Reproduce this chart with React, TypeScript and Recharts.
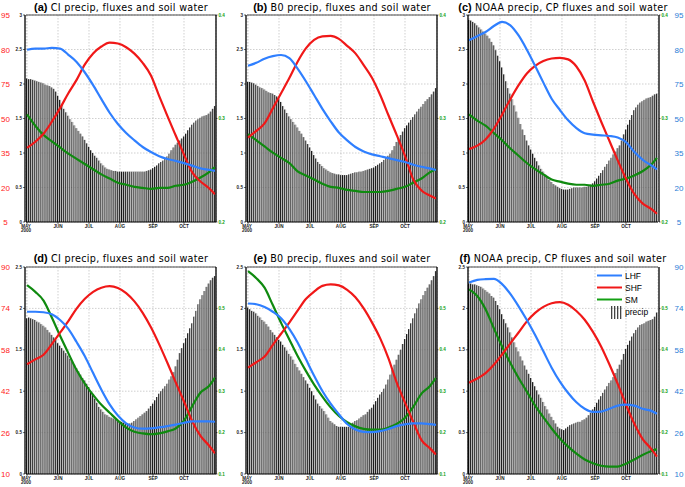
import React from 'react';
import { ComposedChart, Bar, Line, XAxis, YAxis, CartesianGrid, Legend } from 'recharts';

// rows are 2-day bins from 1 May 2000, labelled by the bin's centre day
const ROW_DAYS = Array.from({ length: 92 }, (_, i) => 2 * i + 1);
const LINE_DAYS = [1, 9, 17, 25, 33, 41, 49, 57, 65, 73, 81, 89, 97, 105, 113, 121, 129, 137, 145, 153, 161, 169, 177, 183];

const MONTH_TICKS = [1, 31, 61, 91, 123, 153];
const MONTH_LABELS = ['MAY\n2000', 'JUN', 'JUL', 'AUG', 'SEP', 'OCT'];

const TOP_PRECIP_TICKS = [0, 0.5, 1, 1.5, 2, 2.5, 3];
const BOT_PRECIP_TICKS = [0, 0.5, 1, 1.5, 2, 2.5];
const TOP_SM_TICKS = [0.2, 0.3, 0.4];
const BOT_SM_TICKS = [0.1, 0.2, 0.3, 0.4, 0.5];
const TOP_FLUX_TICKS = [5, 20, 35, 50, 65, 80, 95];
const TOP_FLUX_LABELS = ['5', '20', '35', '50', '75', '80', '95'];
const BOT_FLUX_TICKS = [10, 26, 42, 58, 74, 90];
const BOT_FLUX_LABELS = ['10', '26', '42', '58', '74', '90'];

const PRECIP_A = [
  2.08, 2.07, 2.07, 2.06, 2.05, 2.04, 2.03, 2.02, 2.01, 1.99,
  1.98, 1.97, 1.95, 1.93, 1.89, 1.83, 1.77, 1.70, 1.64, 1.59,
  1.54, 1.49, 1.45, 1.40, 1.36, 1.32, 1.28, 1.24, 1.19, 1.14,
  1.09, 1.04, 1.00, 0.96, 0.93, 0.89, 0.85, 0.82, 0.79, 0.77,
  0.76, 0.75, 0.74, 0.74, 0.73, 0.73, 0.73, 0.73, 0.73, 0.73,
  0.73, 0.73, 0.73, 0.73, 0.73, 0.73, 0.73, 0.73, 0.74, 0.75,
  0.76, 0.78, 0.80, 0.82, 0.85, 0.87, 0.89, 0.92, 0.95, 0.99,
  1.04, 1.08, 1.12, 1.15, 1.18, 1.21, 1.24, 1.28, 1.33, 1.37,
  1.41, 1.44, 1.47, 1.49, 1.51, 1.53, 1.54, 1.55, 1.57, 1.60,
  1.64, 1.68,
];
const PRECIP_B = [
  2.03, 2.03, 2.02, 2.01, 1.99, 1.97, 1.95, 1.94, 1.92, 1.90,
  1.88, 1.87, 1.86, 1.84, 1.82, 1.79, 1.74, 1.68, 1.63, 1.58,
  1.53, 1.49, 1.45, 1.41, 1.37, 1.32, 1.28, 1.23, 1.18, 1.13,
  1.08, 1.03, 0.97, 0.92, 0.87, 0.84, 0.81, 0.78, 0.76, 0.74,
  0.72, 0.71, 0.70, 0.69, 0.69, 0.68, 0.68, 0.68, 0.68, 0.69,
  0.70, 0.71, 0.72, 0.72, 0.73, 0.73, 0.74, 0.75, 0.76, 0.77,
  0.78, 0.79, 0.81, 0.83, 0.85, 0.87, 0.90, 0.93, 0.96, 0.99,
  1.04, 1.10, 1.16, 1.21, 1.26, 1.31, 1.36, 1.40, 1.44, 1.48,
  1.52, 1.56, 1.60, 1.64, 1.67, 1.71, 1.75, 1.78, 1.81, 1.85,
  1.89, 1.94,
];
const PRECIP_C = [
  2.93, 2.92, 2.90, 2.88, 2.85, 2.82, 2.79, 2.76, 2.73, 2.70,
  2.66, 2.61, 2.56, 2.49, 2.41, 2.33, 2.24, 2.14, 2.04, 1.94,
  1.86, 1.78, 1.69, 1.60, 1.51, 1.42, 1.34, 1.26, 1.18, 1.11,
  1.05, 0.99, 0.93, 0.88, 0.82, 0.77, 0.73, 0.69, 0.65, 0.61,
  0.58, 0.55, 0.53, 0.51, 0.49, 0.48, 0.47, 0.47, 0.47, 0.48,
  0.49, 0.50, 0.50, 0.50, 0.50, 0.50, 0.51, 0.51, 0.52, 0.54,
  0.56, 0.59, 0.63, 0.67, 0.71, 0.75, 0.80, 0.84, 0.89, 0.93,
  0.98, 1.02, 1.07, 1.11, 1.18, 1.27, 1.34, 1.41, 1.48, 1.55,
  1.62, 1.66, 1.70, 1.73, 1.75, 1.77, 1.79, 1.80, 1.81, 1.83,
  1.85, 1.86,
];
const PRECIP_D = [
  1.88, 1.89, 1.88, 1.87, 1.86, 1.84, 1.83, 1.81, 1.79, 1.77,
  1.74, 1.71, 1.68, 1.65, 1.62, 1.58, 1.55, 1.52, 1.49, 1.46,
  1.43, 1.39, 1.36, 1.32, 1.28, 1.24, 1.20, 1.16, 1.13, 1.09,
  1.05, 1.00, 0.96, 0.91, 0.86, 0.81, 0.78, 0.75, 0.72, 0.71,
  0.69, 0.68, 0.67, 0.66, 0.65, 0.64, 0.63, 0.62, 0.61, 0.61,
  0.61, 0.62, 0.64, 0.66, 0.68, 0.70, 0.72, 0.74, 0.76, 0.79,
  0.82, 0.85, 0.89, 0.93, 0.97, 1.00, 1.03, 1.06, 1.09, 1.14,
  1.18, 1.23, 1.30, 1.38, 1.46, 1.52, 1.58, 1.64, 1.70, 1.76,
  1.82, 1.90, 1.97, 2.05, 2.11, 2.16, 2.21, 2.26, 2.30, 2.34,
  2.37, 2.39,
];
const PRECIP_E = [
  2.01, 1.99, 1.97, 1.96, 1.94, 1.91, 1.89, 1.86, 1.84, 1.81,
  1.78, 1.74, 1.71, 1.68, 1.65, 1.62, 1.60, 1.56, 1.53, 1.49,
  1.45, 1.42, 1.38, 1.33, 1.29, 1.25, 1.21, 1.17, 1.13, 1.09,
  1.04, 1.00, 0.95, 0.90, 0.85, 0.82, 0.79, 0.76, 0.72, 0.68,
  0.64, 0.62, 0.60, 0.58, 0.57, 0.57, 0.57, 0.57, 0.57, 0.57,
  0.57, 0.62, 0.64, 0.65, 0.67, 0.69, 0.71, 0.72, 0.75, 0.78,
  0.80, 0.84, 0.88, 0.92, 0.96, 0.99, 1.03, 1.08, 1.14, 1.20,
  1.26, 1.32, 1.38, 1.44, 1.50, 1.57, 1.63, 1.69, 1.75, 1.82,
  1.88, 1.94, 2.00, 2.06, 2.11, 2.16, 2.21, 2.25, 2.29, 2.34,
  2.39, 2.45,
];
const PRECIP_F = [
  2.30, 2.30, 2.29, 2.29, 2.28, 2.27, 2.26, 2.24, 2.22, 2.20,
  2.18, 2.15, 2.13, 2.09, 2.04, 1.99, 1.93, 1.87, 1.82, 1.77,
  1.71, 1.65, 1.59, 1.53, 1.48, 1.42, 1.37, 1.31, 1.26, 1.21,
  1.16, 1.11, 1.06, 1.01, 0.96, 0.92, 0.87, 0.82, 0.78, 0.73,
  0.69, 0.65, 0.61, 0.57, 0.55, 0.54, 0.53, 0.55, 0.57, 0.59,
  0.60, 0.61, 0.62, 0.63, 0.63, 0.65, 0.66, 0.68, 0.71, 0.74,
  0.78, 0.81, 0.86, 0.90, 0.94, 0.98, 1.02, 1.06, 1.10, 1.13,
  1.17, 1.22, 1.27, 1.32, 1.38, 1.45, 1.51, 1.56, 1.61, 1.66,
  1.70, 1.74, 1.77, 1.80, 1.81, 1.82, 1.84, 1.85, 1.86, 1.87,
  1.90, 1.95,
];

// fluxes (W/m2) and soil moisture, read every 8 days
const LHF_A = [79.9, 80.4, 80.4, 80.7, 80.4, 77.7, 74.6, 70.0, 64.5, 58.4, 52.5, 47.6, 43.7, 40.5, 37.6, 35.4, 33.6, 32.4, 31.6, 30.6, 29.5, 28.3, 27.7, 27.2];
const SHF_A = [37.2, 39.9, 43.4, 48.6, 54.5, 61.0, 66.8, 73.5, 78.3, 81.3, 83.0, 82.6, 81.0, 78.2, 74.2, 68.7, 59.7, 51.0, 42.6, 34.3, 26.6, 22.6, 19.8, 17.1];
const SM_A = [0.304, 0.293, 0.284, 0.278, 0.272, 0.266, 0.261, 0.256, 0.251, 0.246, 0.242, 0.238, 0.236, 0.234, 0.233, 0.232, 0.233, 0.233, 0.235, 0.236, 0.239, 0.243, 0.248, 0.253];

const LHF_B = [72.9, 74.2, 76.0, 77.1, 77.6, 76.2, 71.7, 66.2, 60.2, 54.2, 48.8, 43.9, 40.5, 37.6, 35.7, 34.4, 33.6, 32.8, 31.9, 31.1, 29.9, 29.0, 28.3, 27.6];
const SHF_B = [41.7, 44.6, 47.9, 54.4, 61.0, 67.6, 74.7, 80.5, 84.2, 85.7, 85.9, 84.6, 81.6, 78.3, 73.2, 67.7, 60.2, 51.4, 42.8, 33.7, 23.5, 18.7, 16.5, 15.2];
const SM_B = [0.285, 0.279, 0.273, 0.267, 0.262, 0.257, 0.249, 0.245, 0.241, 0.237, 0.234, 0.233, 0.231, 0.230, 0.229, 0.229, 0.229, 0.230, 0.232, 0.234, 0.238, 0.242, 0.248, 0.251];

const LHF_C = [84.0, 85.8, 87.6, 90.2, 92.0, 90.5, 86.1, 79.9, 72.9, 65.6, 58.6, 53.7, 49.2, 45.8, 43.6, 43.0, 42.7, 42.4, 41.7, 39.7, 35.5, 32.1, 29.7, 27.9];
const SHF_C = [36.7, 38.2, 40.9, 45.5, 51.7, 58.4, 64.5, 69.6, 72.9, 75.0, 76.1, 76.4, 75.7, 72.6, 66.5, 57.4, 48.6, 40.2, 31.8, 23.8, 17.2, 13.1, 10.8, 8.6];
const SM_C = [0.304, 0.298, 0.293, 0.286, 0.279, 0.271, 0.264, 0.257, 0.251, 0.246, 0.241, 0.239, 0.237, 0.236, 0.236, 0.235, 0.236, 0.237, 0.240, 0.242, 0.245, 0.249, 0.255, 0.262];

const LHF_D = [72.7, 72.7, 72.5, 71.7, 69.5, 66.1, 61.0, 55.5, 49.0, 42.6, 36.9, 32.6, 29.6, 28.0, 27.5, 27.6, 28.0, 28.5, 29.1, 29.8, 30.3, 30.3, 30.3, 30.2];
const SHF_D = [52.4, 54.3, 56.1, 60.2, 64.6, 69.1, 73.9, 77.7, 80.4, 82.0, 82.6, 81.9, 79.9, 76.7, 72.3, 66.7, 60.1, 52.9, 45.4, 38.0, 30.4, 24.7, 21.1, 18.0];
const SM_D = [0.556, 0.540, 0.519, 0.478, 0.434, 0.392, 0.351, 0.318, 0.291, 0.267, 0.248, 0.229, 0.212, 0.202, 0.198, 0.196, 0.198, 0.203, 0.210, 0.229, 0.264, 0.297, 0.312, 0.333];

const LHF_E = [75.9, 75.6, 74.5, 72.7, 70.2, 66.1, 60.8, 54.4, 48.0, 42.1, 37.2, 33.1, 29.3, 27.2, 26.3, 26.2, 26.6, 27.4, 28.5, 29.2, 29.6, 29.6, 29.3, 29.0];
const SHF_E = [51.1, 53.2, 55.4, 59.9, 64.2, 68.5, 73.1, 77.6, 80.5, 82.7, 83.3, 82.9, 81.2, 78.3, 74.0, 68.6, 62.4, 54.7, 45.3, 37.6, 30.1, 23.1, 20.0, 17.5];
const SM_E = [0.590, 0.573, 0.550, 0.508, 0.465, 0.425, 0.385, 0.349, 0.316, 0.287, 0.261, 0.240, 0.225, 0.215, 0.209, 0.207, 0.207, 0.212, 0.221, 0.236, 0.262, 0.294, 0.312, 0.332];

const LHF_F = [84.0, 85.0, 85.3, 85.4, 83.4, 79.6, 74.8, 69.5, 63.7, 57.4, 51.1, 45.7, 41.3, 37.7, 35.2, 34.0, 34.1, 35.2, 36.4, 36.8, 36.4, 35.2, 34.5, 33.3];
const SHF_F = [45.3, 46.9, 49.0, 52.2, 56.2, 60.5, 64.7, 69.0, 72.3, 74.6, 76.0, 76.4, 75.4, 73.0, 69.6, 64.9, 59.2, 52.3, 44.8, 36.8, 29.5, 23.6, 19.9, 16.7];
const SM_F = [0.546, 0.530, 0.498, 0.452, 0.408, 0.368, 0.332, 0.299, 0.265, 0.237, 0.210, 0.186, 0.166, 0.149, 0.135, 0.126, 0.120, 0.118, 0.118, 0.125, 0.135, 0.146, 0.155, 0.160];

const LHF_COLOR = '#2f7fff';
const SHF_COLOR = '#f01818';
const SM_COLOR = '#0f8a0f';

const LEGEND_ITEMS = [
  { name: 'LHF', color: LHF_COLOR, kind: 'line' },
  { name: 'SHF', color: SHF_COLOR, kind: 'line' },
  { name: 'SM', color: '#14a014', kind: 'line' },
  { name: 'precip', color: '#333', kind: 'bars' },
];

const PLOT_W = 190;
const PLOT_H = 207;
// space reserved around each plot area (axis widths come out of this)
const RES = { top: 15, right: 26, bottom: 16, left: 26 };
const COL_LEFT = [26, 247, 468];
const ROW_TOP = [15, 267];

const PANELS = [
  { tag: '(a)', text: 'CI precip, fluxes and soil water', row: 0, col: 0, precip: PRECIP_A, lhf: LHF_A, shf: SHF_A, sm: SM_A, side: 'left' },
  { tag: '(b)', text: 'B0 precip, fluxes and soil water', row: 0, col: 1, precip: PRECIP_B, lhf: LHF_B, shf: SHF_B, sm: SM_B, side: null },
  { tag: '(c)', text: 'NOAA precip, CP fluxes and soil water', row: 0, col: 2, precip: PRECIP_C, lhf: LHF_C, shf: SHF_C, sm: SM_C, side: 'right' },
  { tag: '(d)', text: 'CI precip, fluxes and soil water', row: 1, col: 0, precip: PRECIP_D, lhf: LHF_D, shf: SHF_D, sm: SM_D, side: 'left' },
  { tag: '(e)', text: 'B0 precip, fluxes and soil water', row: 1, col: 1, precip: PRECIP_E, lhf: LHF_E, shf: SHF_E, sm: SM_E, side: null },
  { tag: '(f)', text: 'NOAA precip, CP fluxes and soil water', row: 1, col: 2, precip: PRECIP_F, lhf: LHF_F, shf: SHF_F, sm: SM_F, side: 'right', legend: true },
];

const StripeBar = (props: any) => {
  const { x, y, width, height } = props;
  if (!height || height <= 0) return null;
  const half = width / 2;
  return (
    <g>
      <rect x={x} y={y} width={half} height={height} fill="#161616" />
      <rect x={x + half} y={y} width={width - half} height={height} fill="#b3b3b3" />
    </g>
  );
};

const MonthTick = (props: any) => {
  const { x, y, payload } = props;
  const label = MONTH_LABELS[MONTH_TICKS.indexOf(payload.value)] || '';
  const tx = payload.value === 1 ? x - 1 : x;
  return (
    <text x={tx} y={y} textAnchor="middle" fontSize={4.6} fontWeight="bold" fill="#222">
      {label.split('\n').map((s, i) => (
        <tspan key={i} x={tx} dy={i === 0 ? 3.6 : 4.8}>{s}</tspan>
      ))}
    </text>
  );
};

const LegendBox = () => (
  <div style={{ fontFamily: 'Liberation Sans, Arial, sans-serif', fontSize: 8.5, color: '#000' }}>
    {LEGEND_ITEMS.map((it) => (
      <div key={it.name} style={{ display: 'flex', alignItems: 'center', height: 12.2 }}>
        <svg width={26} height={13} style={{ display: 'block' }}>
          {it.kind === 'line' ? (
            <line x1={0} y1={6.5} x2={25} y2={6.5} stroke={it.color} strokeWidth={2} />
          ) : (
            [14, 17, 20, 23].map((sx) => <rect key={sx} x={sx} y={0} width={1.3} height={13} fill="#444" />)
          )}
        </svg>
        <span style={{ marginLeft: 2 }}>{it.name}</span>
      </div>
    ))}
  </div>
);

const Panel = ({ cfg }: { cfg: any }) => {
  const top = cfg.row === 0;
  const plotLeft = COL_LEFT[cfg.col];
  const plotTop = ROW_TOP[cfg.row];
  const chartLeft = plotLeft - RES.left;
  const chartTop = plotTop - RES.top;
  const precipTicks = top ? TOP_PRECIP_TICKS : BOT_PRECIP_TICKS;
  const smTicks = top ? TOP_SM_TICKS : BOT_SM_TICKS;
  const smDomain = top ? [0.2, 0.4] : [0.1, 0.6];
  const fluxTicks = top ? TOP_FLUX_TICKS : BOT_FLUX_TICKS;
  const fluxLabels = top ? TOP_FLUX_LABELS : BOT_FLUX_LABELS;
  const fluxDomain = top ? [5, 95] : [10, 90];
  const fluxColor = cfg.side === 'left' ? '#ff2222' : '#2a7dd6';

  // every visible y axis is 1px wide, the x axes 1px high
  const margin = {
    top: RES.top - 1,
    bottom: RES.bottom - 1,
    left: RES.left - 1 - (cfg.side === 'left' ? 1 : 0),
    right: RES.right - 1 - (cfg.side === 'right' ? 1 : 0),
  };

  const data = ROW_DAYS.map((day, i) => {
    const k = LINE_DAYS.indexOf(day);
    return {
      day,
      precip: cfg.precip[i],
      lhf: k >= 0 ? cfg.lhf[k] : null,
      shf: k >= 0 ? cfg.shf[k] : null,
      sm: k >= 0 ? cfg.sm[k] : null,
    };
  });

  const FluxTick = (p: any) => {
    const label = fluxLabels[fluxTicks.indexOf(p.payload.value)];
    const tx = cfg.side === 'left' ? 5.5 - chartLeft : 679 - chartLeft;
    return (
      <text x={tx} y={p.y} dy={3} textAnchor="middle" fontSize={8} fill={fluxColor}>{label}</text>
    );
  };

  return (
    <>
      <div
        style={{
          position: 'absolute',
          left: plotLeft + PLOT_W / 2,
          top: top ? 1 : 252,
          transform: 'translateX(-50%)',
          whiteSpace: 'nowrap',
          lineHeight: '12px',
          fontFamily: 'DejaVu Sans, sans-serif',
          fontSize: 9.6,
          letterSpacing: 0.3,
          color: '#000',
        }}
      >
        <span style={{ fontFamily: 'Liberation Sans, Arial, sans-serif', fontWeight: 'bold', fontSize: 11, letterSpacing: 0 }}>{cfg.tag}</span>{' '}
        {cfg.text}
      </div>
      <div style={{ position: 'absolute', left: chartLeft, top: chartTop }}>
        <ComposedChart
          width={PLOT_W + RES.left + RES.right}
          height={PLOT_H + RES.top + RES.bottom}
          data={data}
          margin={margin}
          barCategoryGap={0}
          barGap={0}
        >
          <CartesianGrid yAxisId="precip" stroke="#b0b0b0" strokeDasharray="1.5 1.5" strokeWidth={0.6} />
          <XAxis
            dataKey="day"
            ticks={MONTH_TICKS}
            interval={0}
            tick={MonthTick}
            tickSize={2}
            tickMargin={0}
            height={1}
            axisLine={{ stroke: '#000', strokeWidth: 1 }}
            tickLine={{ stroke: '#000', strokeWidth: 0.6 }}
          />
          <XAxis
            xAxisId="top"
            dataKey="day"
            orientation="top"
            ticks={MONTH_TICKS}
            tick={false}
            tickLine={false}
            height={1}
            axisLine={{ stroke: '#222', strokeWidth: 0.8 }}
          />
          <YAxis
            yAxisId="precip"
            domain={[0, precipTicks[precipTicks.length - 1]]}
            ticks={precipTicks}
            interval={0}
            width={1}
            tickSize={2}
            tickMargin={1}
            tick={{ fontSize: 4.6, fill: '#222', fontWeight: 'bold' }}
            axisLine={{ stroke: '#000', strokeWidth: 1.3 }}
            tickLine={{ stroke: '#000', strokeWidth: 0.6 }}
          />
          <YAxis
            yAxisId="sm"
            orientation="right"
            domain={smDomain}
            ticks={smTicks}
            interval={0}
            width={1}
            tickSize={1.5}
            tickMargin={1}
            tick={{ fontSize: 4.6, fill: '#13a013', fontWeight: 'bold' }}
            axisLine={{ stroke: '#000', strokeWidth: 1.3 }}
            tickLine={{ stroke: '#000', strokeWidth: 0.6 }}
          />
          <YAxis
            yAxisId="flux"
            orientation={cfg.side === 'right' ? 'right' : 'left'}
            hide={!cfg.side}
            domain={fluxDomain}
            ticks={fluxTicks}
            interval={0}
            width={1}
            tickSize={0}
            tickMargin={0}
            axisLine={false}
            tickLine={false}
            tick={FluxTick}
          />
          <Bar yAxisId="precip" dataKey="precip" shape={StripeBar} isAnimationActive={false} />
          <Line yAxisId="sm" dataKey="sm" type="monotone" stroke={SM_COLOR} strokeWidth={2.2} dot={false} activeDot={false} connectNulls isAnimationActive={false} />
          <Line yAxisId="flux" dataKey="shf" type="monotone" stroke={SHF_COLOR} strokeWidth={2.2} dot={false} activeDot={false} connectNulls isAnimationActive={false} />
          <Line yAxisId="flux" dataKey="lhf" type="monotone" stroke={LHF_COLOR} strokeWidth={2.2} dot={false} activeDot={false} connectNulls isAnimationActive={false} />
          {cfg.legend && (
            <Legend
              layout="vertical"
              align="center"
              verticalAlign="middle"
              content={LegendBox}
              wrapperStyle={{ left: 597 - chartLeft, top: 269.5 - chartTop, width: 'auto', height: 'auto' }}
            />
          )}
        </ComposedChart>
      </div>
    </>
  );
};

export default function App() {
  return (
    <div style={{ position: 'relative', width: 685, height: 487, background: '#fff', overflow: 'hidden', fontFamily: 'Liberation Sans, Arial, sans-serif' }}>
      <style>{'body{margin:0}'}</style>
      {PANELS.map((p) => (
        <Panel key={p.tag} cfg={p} />
      ))}
    </div>
  );
}
